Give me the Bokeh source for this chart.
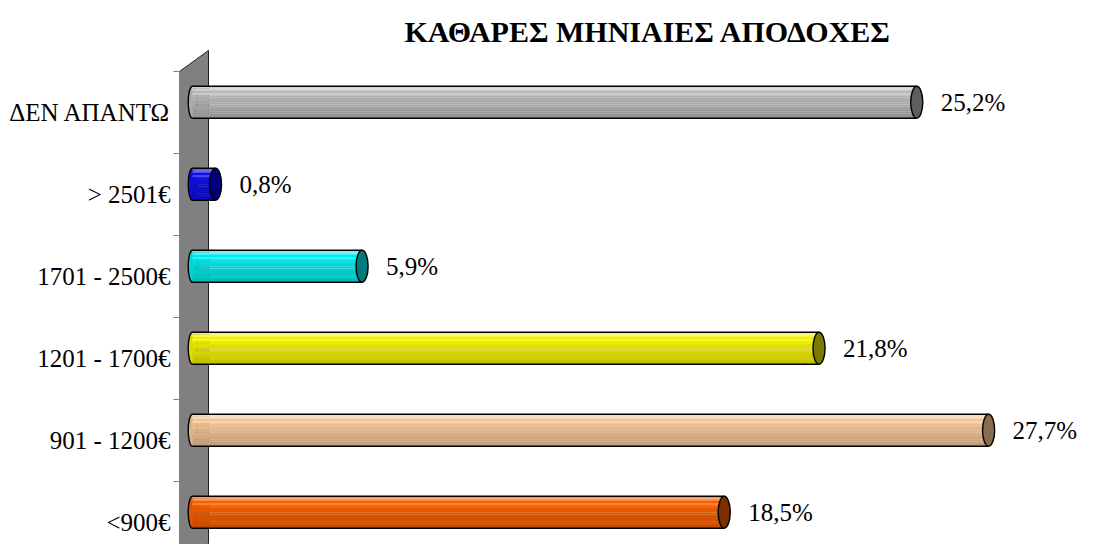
from bokeh.plotting import figure
from bokeh.models import FixedTicker, ColumnDataSource
from bokeh.embed import file_html
from bokeh.resources import INLINE
from bokeh.core.properties import value

# ---- data ----
title_text = "ΚΑΘΑΡΕΣ ΜΗΝΙΑΙΕΣ ΑΠΟΔΟΧΕΣ"
categories = ["<900€", "901 - 1200€", "1201 - 1700€", "1701 - 2500€", "> 2501€", "ΔΕΝ ΑΠΑΝΤΩ"]
percent = [18.5, 27.7, 21.8, 5.9, 0.8, 25.2]
value_labels = ["18,5%", "27,7%", "21,8%", "5,9%", "0,8%", "25,2%"]

# ---- styles ----
base_colors = ["#f86000", "#f6c898", "#f4f400", "#00ecec", "#1010e8", "#bcbcbc"]
cap_colors = ["#7a3000", "#8c6c50", "#7a7a00", "#007a7a", "#00007a", "#5e5e5e"]
FONT = "Liberation Serif"
N_STRIPS = 14
BAR_H = 0.39
BAR_SHIFT = 0.125


def hex2rgb(h):
    h = h.lstrip("#")
    return [int(h[i:i + 2], 16) for i in (0, 2, 4)]


def rgb2hex(c):
    return "#%02x%02x%02x" % tuple(max(0, min(255, int(round(v)))) for v in c)


def shade(h, t):
    r = hex2rgb(h)
    if t < 0.12:
        m = 0.35
        return rgb2hex([v + (255 - v) * m for v in r])
    if 0.18 < t < 0.26:
        m = 0.22
        return rgb2hex([v + (255 - v) * m for v in r])
    f = 1.0 - 0.22 * (t - 0.12) / 0.88
    return rgb2hex([v * f for v in r])


X0, X1 = -0.4523, 30.828
Y0, Y1 = -0.268, 5.780
p = figure(width=1078, height=544, output_backend="svg", toolbar_location=None,
           x_range=(X0, X1), y_range=(Y0, Y1),
           x_axis_type=None, min_border_left=179, min_border_right=0,
           min_border_top=48, min_border_bottom=0)
p.outline_line_color = None
p.xgrid.visible = False
p.ygrid.visible = False
p.background_fill_color = "white"

# title
p.title.text = title_text
p.title.text_font = FONT
p.title.text_font_size = "30px"
p.title.text_font_style = "bold"
p.title.text_color = "black"
p.title.align = "left"
p.title.offset = 225
p.title.standoff = 2

# wall (side panel)
wx1 = 0.557
p.patch([X0, wx1, wx1, X0], [5.5, 5.756, -0.256, -0.5],
        fill_color="#808080", line_color="#202020", line_width=1)

ypos = [i + BAR_SHIFT for i in range(len(categories))]

# left rounded ends
p.ellipse(x=[0.0] * len(percent), y=ypos, width=0.30, height=BAR_H,
          fill_color=[shade(c, 0.5) for c in base_colors], line_color="black", line_width=1.4)

# cylinder bodies built from horizontal strips
sy, sr, sc = [], [], []
for i, v in enumerate(percent):
    for k in range(N_STRIPS):
        t = (k + 0.5) / N_STRIPS
        sy.append(ypos[i] + BAR_H / 2 - t * BAR_H)
        sr.append(v)
        sc.append(shade(base_colors[i], t))
src = ColumnDataSource(dict(y=sy, right=sr, color=sc))
p.hbar(y="y", left=0, right="right", height=BAR_H / N_STRIPS + 0.002, source=src,
       fill_color="color", line_color=None)

# top / bottom outlines
p.segment(x0=[0.0] * len(percent), y0=[y + BAR_H / 2 for y in ypos], x1=percent,
          y1=[y + BAR_H / 2 for y in ypos], line_color="black", line_width=1.4)
p.segment(x0=[0.0] * len(percent), y0=[y - BAR_H / 2 for y in ypos], x1=percent,
          y1=[y - BAR_H / 2 for y in ypos], line_color="black", line_width=1.4)

# end caps
p.ellipse(x=percent, y=ypos, width=0.42, height=BAR_H,
          fill_color=cap_colors, line_color="black", line_width=1.4)

# value labels
p.text(x=percent, y=ypos, text=value_labels, x_offset=24, text_baseline="middle",
       text_align="left", text_font=value(FONT), text_font_size="25px", text_color="black")

# category axis
ax = p.yaxis[0]
ax.ticker = FixedTicker(ticks=list(range(len(categories))),
                        minor_ticks=[i - 0.5 for i in range(len(categories) + 1)])
ax.major_label_overrides = {i: c for i, c in enumerate(categories)}
ax.major_tick_line_color = None
ax.major_tick_out = 6
ax.major_tick_in = 0
ax.minor_tick_out = 6
ax.minor_tick_in = 0
ax.minor_tick_line_color = "#808080"
ax.axis_line_color = None
ax.major_label_standoff = 3
ax.major_label_text_font = FONT
ax.major_label_text_font_size = "25px"
ax.major_label_text_color = "black"

open("out.html", "w").write(file_html(p, INLINE))
